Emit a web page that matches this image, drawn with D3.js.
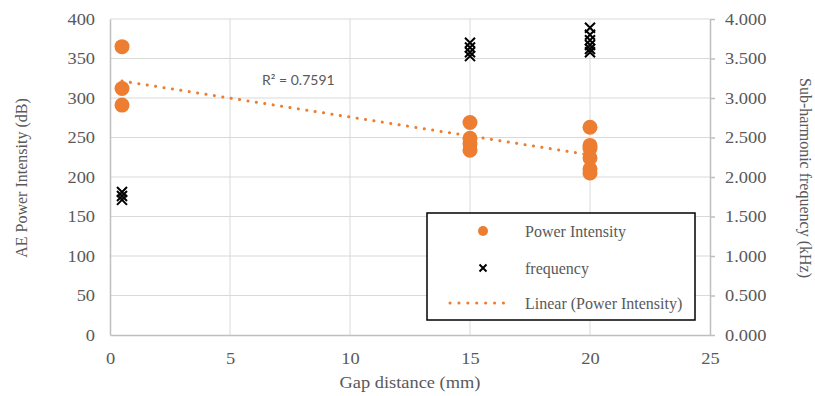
<!DOCTYPE html>
<html><head><meta charset="utf-8">
<script src="https://cdn.jsdelivr.net/npm/d3@7"></script>
<style>body{margin:0;background:#fff}svg{display:block}</style>
</head><body>
<svg id="chart" width="815" height="396"></svg>
<script>
// ---- data ----
const xTicks = [0, 5, 10, 15, 20, 25];
const leftTicks = [0, 50, 100, 150, 200, 250, 300, 350, 400];
const rightTicks = [0, 0.5, 1, 1.5, 2, 2.5, 3, 3.5, 4];
const powerGap = [0.5, 0.5, 0.5, 15, 15, 15, 15, 20, 20, 20, 20, 20, 20];
const powerVal = [365, 312, 291, 269, 249, 242, 234, 263, 240, 236, 224, 210, 205];
const freqGap = [0.5, 0.5, 0.5, 15, 15, 15, 15, 20, 20, 20, 20, 20, 20];
const freqVal = [1.81, 1.76, 1.71, 3.70, 3.64, 3.58, 3.53, 3.89, 3.80, 3.73, 3.67, 3.62, 3.58];
const r2Label = "R² = 0.7591";
const legendLabels = ["Power Intensity", "frequency", "Linear (Power Intensity)"];

// ---- layout ----
const svg = d3.select("#chart");
const L = 110, R = 710, T = 19, B = 335;
const x = d3.scaleLinear().domain([0, 25]).range([L, R]);
const yL = d3.scaleLinear().domain([0, 400]).range([B, T]);
const yR = d3.scaleLinear().domain([0, 4]).range([B, T]);
const orange = "#ED7D31", textCol = "#595959", grid = "#D9D9D9", axisCol = "#BFBFBF";
const serif = "'Liberation Serif','Times New Roman',serif";
const stretch = "scale(1.15,1)";

// gridlines
svg.append("g").selectAll("line").data(leftTicks.slice(1)).join("line")
  .attr("x1", L).attr("x2", R).attr("y1", d => yL(d)).attr("y2", d => yL(d))
  .attr("stroke", grid).attr("stroke-width", 1);
svg.append("g").selectAll("line").data(xTicks.slice(1, -1)).join("line")
  .attr("x1", d => x(d)).attr("x2", d => x(d)).attr("y1", T).attr("y2", B)
  .attr("stroke", grid).attr("stroke-width", 1);

// axes
const gx = svg.append("g").attr("transform", `translate(0,${B})`)
  .call(d3.axisBottom(x).tickValues(xTicks).tickSize(0).tickPadding(18).tickFormat(d3.format("d")));
const gl = svg.append("g").attr("transform", `translate(${L},0)`)
  .call(d3.axisLeft(yL).tickValues(leftTicks).tickSize(0).tickPadding(13).tickFormat(d3.format("d")));
const gr = svg.append("g").attr("transform", `translate(${R},0)`)
  .call(d3.axisRight(yR).tickValues(rightTicks).tickSize(5).tickSizeOuter(0).tickPadding(8).tickFormat(d3.format(".3f")));
[gx, gl, gr].forEach(g => {
  g.select(".domain").attr("stroke", axisCol).attr("stroke-width", 1.5);
  g.selectAll(".tick line").attr("stroke", axisCol).attr("stroke-width", 1.5);
  g.selectAll("text").attr("fill", textCol).attr("font-family", serif).attr("font-size", 16)
    .attr("transform", stretch);
});

// axis titles
svg.append("text").attr("x", 0).attr("y", 0)
  .attr("transform", `translate(410,388) ${stretch}`)
  .attr("text-anchor", "middle").attr("fill", textCol)
  .attr("font-family", serif).attr("font-size", 16).text("Gap distance (mm)");
svg.append("text").attr("transform", `translate(27,178) rotate(-90)`)
  .attr("text-anchor", "middle").attr("fill", textCol)
  .attr("font-family", serif).attr("font-size", 16).text("AE Power Intensity (dB)");
svg.append("text").attr("transform", `translate(800,178) rotate(90)`)
  .attr("text-anchor", "middle").attr("fill", textCol)
  .attr("font-family", serif).attr("font-size", 16).text("Sub-harmonic frequency (kHz)");

// power points
const pData = powerGap.map((g, i) => ({ g, v: powerVal[i] }));
svg.append("g").selectAll("circle").data(pData).join("circle")
  .attr("cx", d => x(d.g)).attr("cy", d => yL(d.v)).attr("r", 7.5)
  .attr("fill", orange);

// frequency crosses
const fData = freqGap.map((g, i) => ({ g, v: freqVal[i] }));
const cross = (s) => `M${-s},${-s}L${s},${s}M${-s},${s}L${s},${-s}`;
svg.append("g").selectAll("path").data(fData).join("path")
  .attr("transform", d => `translate(${x(d.g)},${yR(d.v)})`)
  .attr("d", cross(5)).attr("stroke", "#000").attr("stroke-width", 2).attr("fill", "none");

// linear trendline (least squares on power data)
const mx = d3.mean(powerGap), my = d3.mean(powerVal);
const sxy = d3.sum(powerGap, (g, i) => (g - mx) * (powerVal[i] - my));
const sxx = d3.sum(powerGap, g => (g - mx) ** 2);
const slope = sxy / sxx, icpt = my - slope * mx;
const [x0, x1] = d3.extent(powerGap);
svg.append("line")
  .attr("x1", x(x0)).attr("y1", yL(icpt + slope * x0))
  .attr("x2", x(x1)).attr("y2", yL(icpt + slope * x1))
  .attr("stroke", orange).attr("stroke-width", 3).attr("stroke-linecap", "round")
  .attr("stroke-dasharray", "0.1 8.4");

// R² label
svg.append("text").attr("x", 262).attr("y", 85).attr("fill", textCol)
  .attr("font-family", "Lato, 'Open Sans', sans-serif").attr("font-size", 14).text(r2Label);

// legend
const lg = svg.append("g");
lg.append("rect").attr("x", 427).attr("y", 213).attr("width", 268).attr("height", 107)
  .attr("fill", "#fff").attr("stroke", "#000").attr("stroke-width", 1.5);
const rowsY = [231, 268, 303];
lg.append("circle").attr("cx", 483).attr("cy", rowsY[0]).attr("r", 5).attr("fill", orange);
lg.append("path").attr("transform", `translate(483,${rowsY[1]})`).attr("d", cross(3.5))
  .attr("stroke", "#000").attr("stroke-width", 2);
lg.append("line").attr("x1", 450).attr("x2", 512).attr("y1", rowsY[2]).attr("y2", rowsY[2])
  .attr("stroke", orange).attr("stroke-width", 3).attr("stroke-linecap", "round")
  .attr("stroke-dasharray", "0.1 8.8");
lg.selectAll("text.lab").data(legendLabels).join("text").attr("class", "lab")
  .attr("x", 525).attr("y", (d, i) => rowsY[i]).attr("dy", "0.35em")
  .attr("fill", textCol).attr("font-family", serif).attr("font-size", 16).text(d => d);
</script>
</body></html>
